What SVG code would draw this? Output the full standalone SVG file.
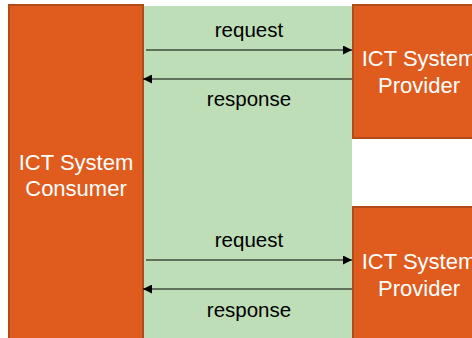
<svg xmlns="http://www.w3.org/2000/svg" width="472" height="338" viewBox="0 0 472 338">
<style>
.sys{fill:#E05C1E;stroke:#B24A1A;stroke-width:2}
.zone{fill:#BDDEB7}
.nt{font-family:"Liberation Sans",Arial,sans-serif;font-size:22px;fill:#FFFFFF;text-anchor:middle}
.lt{font-family:"Liberation Sans",Arial,sans-serif;font-size:20.5px;fill:#000000;text-anchor:middle}
.cn{stroke:#000000;stroke-width:1.2;fill:none;marker-end:url(#ah)}
</style>
<defs>
<marker id="ah" viewBox="0 0 10 10" refX="10" refY="5" markerWidth="11" markerHeight="9" markerUnits="userSpaceOnUse" orient="auto">
<path d="M0,0 L10,5 L0,10 z" fill="#000000"/>
</marker>
</defs>
<rect class="zone" x="143" y="6" width="209" height="340"/>
<g id="consumer">
<rect class="sys" x="9" y="5" width="134" height="345"/>
<text class="nt" x="76" y="170">ICT System</text>
<text class="nt" x="76" y="196">Consumer</text>
</g>
<g id="provider1">
<rect class="sys" x="353" y="5" width="133" height="133"/>
<text class="nt" x="419" y="66">ICT System</text>
<text class="nt" x="419" y="93">Provider</text>
</g>
<g id="provider2">
<rect class="sys" x="353" y="207" width="133" height="140"/>
<text class="nt" x="419" y="269">ICT System</text>
<text class="nt" x="419" y="296">Provider</text>
</g>
<g id="connectors">
<line class="cn" x1="146" y1="50" x2="352" y2="50"/>
<line class="cn" x1="352" y1="79" x2="143" y2="79"/>
<line class="cn" x1="146" y1="260" x2="352" y2="260"/>
<line class="cn" x1="352" y1="289" x2="143" y2="289"/>
<text class="lt" x="249" y="37">request</text>
<text class="lt" x="249" y="106">response</text>
<text class="lt" x="249" y="247">request</text>
<text class="lt" x="249" y="317">response</text>
</g>
</svg>
